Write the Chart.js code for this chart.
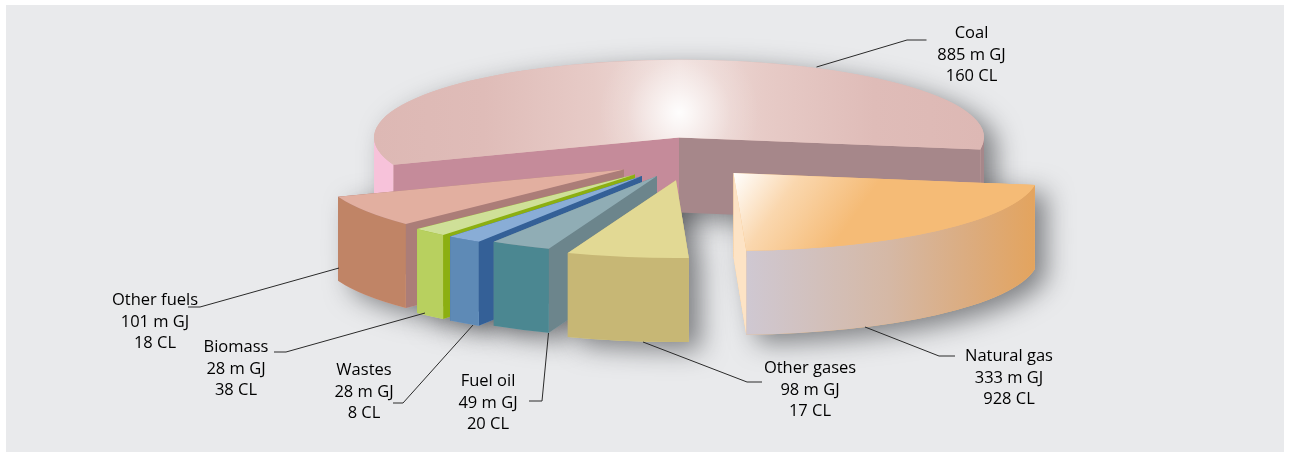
<!DOCTYPE html>
<html>
<head>
<meta charset="utf-8">
<title>Energy use by fuel</title>
<script src="https://cdn.jsdelivr.net/npm/chart.js"></script>
<style>
    html, body { margin: 0; padding: 0; background: #fff; }
    canvas { display: block; }
</style>
</head>
<body>
<canvas id="fuelChart" width="1290" height="455"></canvas>
<script>
const categories = ['Coal', 'Natural gas', 'Other gases', 'Fuel oil', 'Wastes', 'Biomass', 'Other fuels'];
const energyMGJ = [885, 333, 98, 49, 28, 28, 101];
const clValues = [160, 928, 17, 20, 8, 38, 18];

// Pie geometry
const SQUASH = 0.255;
const RADIUS = 305;

// Per-slice look, same order as categories. shift = how far the slice is pulled out of the pie
const sliceStyles = [
    { shift: [0, 0], height: 75, top: '#ddb8b4', wall: '#f7c2da', startFace: '#c58b9a', endFace: '#a6878a' },
    { shift: [54.5, 35.5], height: 84, top: '#f5bb76', wall: '#d5b8a5', startFace: '#f5bb76', endFace: '#fde3c5' },
    { shift: [-3, 42.8], height: 84, top: '#e2d994', wall: '#c7b775', startFace: '#c7b775', endFace: '#c7b775' },
    { shift: [-22, 38.5], height: 84, top: '#90adb5', wall: '#4b8791', startFace: '#6c858c', endFace: '#6c858c' },
    { shift: [-37, 38.5], height: 84, top: '#89add6', wall: '#5e8ab6', startFace: '#346097', endFace: '#346097' },
    { shift: [-44, 37], height: 84, top: '#cfe098', wall: '#b8d05f', startFace: '#8caf11', endFace: '#8caf11' },
    { shift: [-55.2, 32], height: 84, top: '#e2afa0', wall: '#c08466', startFace: '#ab7d78', endFace: '#ab7d78' }
];

// Back to front
const drawOrder = [0, 1, 6, 5, 4, 3, 2];

// Label block centre and first line centre, then the leader line running to the slice
const labelLayout = [
    { x: 971.5, y: 33.5, leader: [[816.5, 67], [907, 40], [926.5, 40]] },
    { x: 1009, y: 356.5, leader: [[865, 327], [939, 356], [955, 356]] },
    { x: 810, y: 368.5, leader: [[643, 342], [747, 382], [762, 382]] },
    { x: 488, y: 381.5, leader: [[548.5, 333], [542, 401], [529, 401]] },
    { x: 364, y: 370.5, leader: [[473, 325], [403, 403], [393, 403]] },
    { x: 236, y: 347.5, leader: [[425, 313], [286, 352], [274, 352]] },
    { x: 155, y: 300.5, leader: [[339, 268], [200, 307], [188, 307]] }
];

/**
 * Top face colours. Coal and natural gas carry a highlight, the rest are flat.
 * The gradients live in the arc's own unsquashed coordinates.
 */
function topFill(context) {
    const index = context.dataIndex;
    const area = context.chart.chartArea;
    if (!area) return sliceStyles[index].top;
    const cx = (area.left + area.right) / 2;
    const cy = (area.top + area.bottom) / 2;
    const ctx = context.chart.ctx;

    if (index === 0) {
        const g = ctx.createLinearGradient(cx - RADIUS, 0, cx + RADIUS, 0);
        g.addColorStop(0, '#ddb8b4');
        g.addColorStop(0.18, '#dfbcb8');
        g.addColorStop(0.36, '#e7cbc7');
        g.addColorStop(0.5, '#efdedb');
        g.addColorStop(0.64, '#e7cbc7');
        g.addColorStop(0.82, '#dfbcb8');
        g.addColorStop(1, '#ddb8b4');
        return g;
    }
    if (index === 1) {
        const g = ctx.createLinearGradient(cx, cy, cx + 147, cy + 27);
        g.addColorStop(0, '#ffffff');
        g.addColorStop(0.45, '#fad7ae');
        g.addColorStop(1, '#f5bb76');
        return g;
    }
    return sliceStyles[index].top;
}

/**
 * Flat face running from the apex out to the rim at the given angle
 */
function drawRadialFace(ctx, arc, style, angle, color) {
    const apexX = arc.x + style.shift[0];
    const apexY = arc.y + style.shift[1];
    const rimX = apexX + RADIUS * Math.cos(angle);
    const rimY = apexY + RADIUS * SQUASH * Math.sin(angle);
    ctx.fillStyle = color;
    ctx.beginPath();
    ctx.moveTo(apexX, apexY);
    ctx.lineTo(rimX, rimY);
    ctx.lineTo(rimX, rimY + style.height);
    ctx.lineTo(apexX, apexY + style.height);
    ctx.closePath();
    ctx.fill();
}

function wallFill(ctx, index) {
    if (index === 0) {
        // left stretch of the rim is pink, the sliver on the right follows the cut face
        const g = ctx.createLinearGradient(300, 0, 1000, 0);
        g.addColorStop(0, sliceStyles[0].wall);
        g.addColorStop(0.5, sliceStyles[0].wall);
        g.addColorStop(0.5, sliceStyles[0].endFace);
        g.addColorStop(1, sliceStyles[0].endFace);
        return g;
    }
    if (index === 1) {
        const g = ctx.createLinearGradient(746, 0, 1033, 0);
        g.addColorStop(0, '#cfc8d2');
        g.addColorStop(0.5, '#d5b8a5');
        g.addColorStop(0.8, '#dcab7c');
        g.addColorStop(1, '#e3a45f');
        return g;
    }
    return sliceStyles[index].wall;
}

/**
 * Curved rim, only the parts that face the viewer (angle between 0 and PI)
 */
function drawRim(ctx, arc, style, index) {
    const cx = arc.x + style.shift[0];
    const cy = arc.y + style.shift[1];
    const ry = RADIUS * SQUASH;
    ctx.fillStyle = wallFill(ctx, index);
    for (let n = 0; n < 3; n++) {
        const lo = Math.max(arc.startAngle, n * 2 * Math.PI);
        const hi = Math.min(arc.endAngle, n * 2 * Math.PI + Math.PI);
        if (hi <= lo) continue;
        ctx.beginPath();
        ctx.ellipse(cx, cy, RADIUS, ry, 0, lo, hi);
        ctx.ellipse(cx, cy + style.height, RADIUS, ry, 0, hi, lo, true);
        ctx.closePath();
        ctx.fill();
    }
}

/**
 * Soft shadow under a slice. The extruded outline is a stack of wedges so
 * the whole body goes into one path.
 */
function drawSliceShadow(ctx, arc, style) {
    const cx = arc.x + style.shift[0];
    const cy = arc.y + style.shift[1];
    const outline = new Path2D();
    for (let drop = 0; drop <= style.height; drop += 2) {
        outline.moveTo(cx, cy + drop);
        outline.ellipse(cx, cy + drop, RADIUS, RADIUS * SQUASH, 0, arc.startAngle, arc.endAngle);
        outline.closePath();
    }
    ctx.save();
    ctx.shadowColor = 'rgba(40, 42, 46, 0.55)';
    ctx.shadowBlur = 26;
    ctx.shadowOffsetX = 12;
    ctx.shadowOffsetY = 8;
    ctx.fillStyle = style.top;
    ctx.fill(outline);
    ctx.restore();
}

/**
 * White glow on the coal top. Clipped to the wedge while squashed, then
 * painted as a round spot in plain canvas coordinates.
 */
function drawCoalGlow(ctx, arc) {
    ctx.save();
    ctx.beginPath();
    ctx.moveTo(arc.x, arc.y);
    ctx.arc(arc.x, arc.y, RADIUS, arc.startAngle, arc.endAngle);
    ctx.closePath();
    ctx.clip();
    ctx.setTransform(1, 0, 0, 1, 0, 0);

    const glowY = arc.y - 25;
    const glow = ctx.createRadialGradient(arc.x, glowY, 0, arc.x, glowY, 80);
    glow.addColorStop(0, 'rgba(255, 255, 255, 0.95)');
    glow.addColorStop(0.3, 'rgba(255, 255, 255, 0.55)');
    glow.addColorStop(0.65, 'rgba(255, 255, 255, 0.15)');
    glow.addColorStop(1, 'rgba(255, 255, 255, 0)');
    ctx.fillStyle = glow;
    ctx.fillRect(arc.x - 80, glowY - 80, 160, 160);
    ctx.restore();
}

const pie3dPlugin = {
    id: 'pie3d',
    beforeDraw(chart) {
        const ctx = chart.ctx;
        ctx.save();
        ctx.fillStyle = '#e9eaec';
        ctx.fillRect(6, 5, 1278, 447);
        ctx.restore();
    },
    // The library's arcs supply angles and radius; walls are extruded from them
    beforeDatasetsDraw(chart) {
        const ctx = chart.ctx;
        const arcs = chart.getDatasetMeta(0).data;

        drawOrder.forEach(function (i) {
            drawSliceShadow(ctx, arcs[i], sliceStyles[i]);
        });

        drawOrder.forEach(function (i) {
            const arc = arcs[i];
            const style = sliceStyles[i];

            drawRadialFace(ctx, arc, style, arc.endAngle, style.endFace);
            drawRadialFace(ctx, arc, style, arc.startAngle, style.startFace);
            if (i === 1) {
                // this slice points the other way, its end face is the one in front
                drawRadialFace(ctx, arc, style, arc.endAngle, style.endFace);
            }
            drawRim(ctx, arc, style, i);

            ctx.save();
            ctx.translate(arc.x + style.shift[0], arc.y + style.shift[1]);
            ctx.scale(1, SQUASH);
            ctx.translate(-arc.x, -arc.y);
            arc.draw(ctx);
            if (i === 0) drawCoalGlow(ctx, arc);
            ctx.restore();
        });
        return false;
    },
    afterDraw(chart) {
        const ctx = chart.ctx;
        ctx.save();
        ctx.strokeStyle = '#2a2a2a';
        ctx.lineWidth = 1;
        ctx.fillStyle = '#000';
        ctx.font = '16.5px "Open Sans"';
        ctx.textAlign = 'center';
        ctx.textBaseline = 'middle';
        categories.forEach(function (name, i) {
            const layout = labelLayout[i];
            ctx.beginPath();
            layout.leader.forEach(function (p, n) {
                if (n === 0) ctx.moveTo(p[0], p[1]);
                else ctx.lineTo(p[0], p[1]);
            });
            ctx.stroke();
            ctx.fillText(name, layout.x, layout.y);
            ctx.fillText(energyMGJ[i] + ' m GJ', layout.x, layout.y + 21.5);
            ctx.fillText(clValues[i] + ' CL', layout.x, layout.y + 43);
        });
        ctx.restore();
    }
};

new Chart(document.getElementById('fuelChart'), {
    type: 'pie',
    data: {
        labels: categories,
        datasets: [{
            data: energyMGJ,
            backgroundColor: topFill,
            borderWidth: 0,
            radius: RADIUS
        }]
    },
    options: {
        responsive: false,
        animation: false,
        rotation: 249.5,
        layout: { padding: { left: 68, bottom: 180 } },
        plugins: {
            legend: { display: false },
            tooltip: { enabled: false }
        }
    },
    plugins: [pie3dPlugin]
});
</script>
</body>
</html>
